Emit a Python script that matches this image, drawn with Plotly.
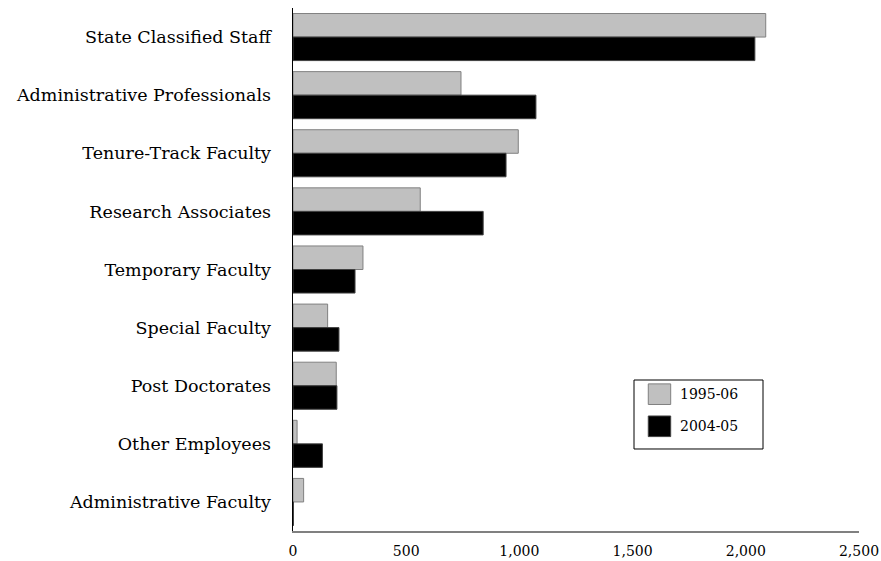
import plotly.graph_objects as go

categories = [
    "State Classified Staff",
    "Administrative Professionals",
    "Tenure-Track Faculty",
    "Research Associates",
    "Temporary Faculty",
    "Special Faculty",
    "Post Doctorates",
    "Other Employees",
    "Administrative Faculty",
]
series_names = ["1995-06", "2004-05"]
values_1995 = [2088, 742, 995, 562, 309, 153, 191, 18, 47]
values_2004 = [2040, 1073, 941, 840, 274, 203, 194, 130, 2]
x_ticks = [0, 500, 1000, 1500, 2000, 2500]

FONT = "DejaVu Serif"
fills = ["#c0c0c0", "#000000"]
edges = ["#808080", "#404040"]

fig = go.Figure()
for name, vals, fc, ec in zip(series_names, [values_1995, values_2004], fills, edges):
    fig.add_trace(go.Bar(
        y=categories, x=vals, name=name, orientation="h",
        marker=dict(color=fc, line=dict(color=ec, width=1)),
        showlegend=False,
    ))

# legend drawn as a boxed key
shapes = [dict(type="rect", xref="paper", yref="paper",
               x0=0.6025, x1=0.8304, y0=0.1568, y1=0.2887,
               line=dict(color="black", width=1), fillcolor="white", layer="above")]
annotations = []
sw_tops = [0.2813, 0.2199]
for i, name in enumerate(series_names):
    y1 = sw_tops[i]
    y0 = y1 - 0.0394
    shapes.append(dict(type="rect", xref="paper", yref="paper",
                       x0=0.6277, x1=0.6673, y0=y0, y1=y1,
                       line=dict(color=edges[i], width=1), fillcolor=fills[i],
                       layer="above"))
    annotations.append(dict(xref="paper", yref="paper", x=0.6805, y=(y0 + y1) / 2,
                            xanchor="left", yanchor="middle", text=name,
                            showarrow=False,
                            font=dict(family=FONT, size=14, color="black")))

fig.update_layout(
    width=881, height=561,
    margin=dict(l=293, r=22, t=8, b=30, autoexpand=False),
    paper_bgcolor="white", plot_bgcolor="white",
    barmode="group", bargap=0.19, bargroupgap=0,
    font=dict(family=FONT, color="black"),
    showlegend=False,
    shapes=shapes, annotations=annotations,
)
fig.update_yaxes(
    autorange="reversed", showline=True, linecolor="black", linewidth=1.5,
    ticks="", ticklabelstandoff=17, showgrid=False, zeroline=False,
    tickfont=dict(family=FONT, size=17.5, color="black"), automargin=False,
)
fig.update_xaxes(
    range=[0, 2500], tickvals=x_ticks, tickformat=",", showline=True,
    linecolor="#808080", linewidth=2, ticks="", ticklabelstandoff=6,
    showgrid=False, zeroline=False,
    tickfont=dict(family=FONT, size=14, color="black"), automargin=False,
)

fig.write_html(
    "out.html",
    config={"displayModeBar": False, "staticPlot": True},
    post_script="document.body.style.margin='0';document.body.style.overflow='hidden';",
)
